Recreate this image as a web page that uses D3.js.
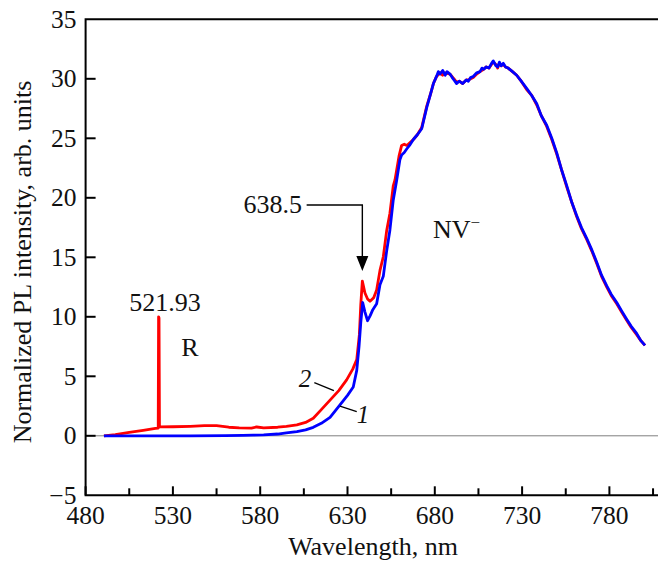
<!DOCTYPE html>
<html><head><meta charset="utf-8">
<script src="https://cdn.jsdelivr.net/npm/d3@7"></script>
<style>body{margin:0;background:#fff}svg{display:block}text{font-family:"Liberation Serif","Times New Roman",serif;fill:#111}</style>
</head><body>
<script>
// ---- data ----
const xTicks = [480, 530, 580, 630, 680, 730, 780];
const yTicks = [-5, 0, 5, 10, 15, 20, 25, 30, 35];
// curve 2 (red)
const redWl  = [490.5,497,505,513,520,521.6,521.8,522.05,522.3,530,540,548,555,562,568,575,578,582,590,595,601,606,610.4,615,620,625,629.5,633,635.3,636.8,637.6,638.5,640,641.5,642.9,645,646.7,648.6,650.5,652.4,654.3,656.2,657.2,659.5,661,662.5,664,667.7,670,672.5,675.4,677.5,679.2,681,683,684.5,686,688.7,691,692.5,694,696,698,699.2,702,704,705.9,708,709.5,711,712.5,713.5,715,716,717,718,719.2,720.5,722,724.5,726.9,729.5,732.6,735.5,738.4,741,744.1,747,749.8,752.5,755.6,758.5,761.3,764,767,770,772.7,775.5,778.5,781,784.2,787,789.9,792.5,795.6,798,800.4];
const redVal = [0,0.1,0.28,0.45,0.62,0.65,10,9.9,0.75,0.76,0.8,0.85,0.85,0.72,0.66,0.65,0.74,0.66,0.72,0.8,0.92,1.12,1.47,2.2,3.0,3.8,4.7,5.6,6.4,8.5,11,13.0,12.0,11.5,11.3,11.6,12.25,13.9,15.05,17.2,18.7,21.0,21.5,23.5,24.4,24.5,24.4,24.9,25.3,25.9,27.7,28.7,29.6,30.2,30.5,30.3,30.5,30.4,30.0,29.7,29.8,29.6,29.9,29.9,30.1,30.4,30.6,30.8,31.0,30.9,31.2,31.4,31.2,30.9,31.3,31.1,31.2,31.0,30.9,30.6,30.3,29.8,29.1,28.6,27.8,26.9,26.0,24.9,23.7,22.4,20.9,19.6,18.4,17.4,16.5,15.5,14.5,13.4,12.5,11.8,11.1,10.4,9.7,9.1,8.5,8.0,7.6];
// curve 1 (blue)
const blueWl  = [490.5,500,520,540,560,570,576,582,590,595,601,606,610.4,615,620,625.7,630,633.3,635.3,636.6,637.6,638.7,640,641.5,643,644.5,646.7,648.6,650.5,652.4,654.3,656.2,658.2,660,661,662.5,663.9,665.5,667.7,670,672.5,675.4,677.5,679.2,681,682,683,684.5,686,687,688.7,690,691,692.5,694,696,698,699.2,700.5,702,704,705.9,707,708,709.5,711,712.5,713.5,715,716,717,718,719.2,720.5,722,724.5,726.9,729.5,732.6,735.5,738.4,741,744.1,747,749.8,752.5,755.6,758.5,761.3,764,767,770,772.7,775.5,778.5,781,784.2,787,789.9,792.5,795.6,798,800.4];
const blueVal = [0,0,0,0,0.01,0.03,0.05,0.07,0.15,0.24,0.35,0.5,0.71,1.05,1.55,2.6,3.4,4.1,5.5,7.5,9.5,11.2,10.4,9.67,10.1,10.6,11.1,12.7,13.4,15.5,17.3,19.8,21.5,23.2,23.6,23.8,24.1,24.4,24.9,25.3,25.8,27.6,28.7,29.6,30.2,30.6,30.4,30.7,30.3,30.6,30.4,30.1,29.9,29.6,29.8,29.6,29.9,29.8,30.1,30.2,30.5,30.6,30.9,30.8,31.0,30.9,31.3,31.5,31.1,31.0,31.4,31.1,31.3,31.0,30.9,30.6,30.3,29.8,29.2,28.6,27.9,26.9,26.1,25.0,23.8,22.4,21.0,19.6,18.5,17.5,16.6,15.6,14.6,13.5,12.6,11.9,11.2,10.5,9.8,9.2,8.6,8.0,7.6];

const W = 658, H = 563;
const svg = d3.select("body").append("svg").attr("width", W).attr("height", H);

const x = d3.scaleLinear().domain([480, 830]).range([85.6, 85.6 + 350 * 1.746]);
const y = d3.scaleLinear().domain([-5, 35]).range([495.3, 19.3]);
const xL = x(480), xR = W + 20, yB = y(-5), yT = y(35);

// zero line
svg.append("line").attr("x1", xL).attr("x2", xR).attr("y1", y(0)).attr("y2", y(0))
  .attr("stroke", "#7f7f7f").attr("stroke-width", 1);

// curves
const line = d3.line().x(d => x(d[0])).y(d => y(d[1])).curve(d3.curveLinear);
svg.append("path").datum(d3.zip(redWl, redVal)).attr("d", line)
  .attr("fill", "none").attr("stroke", "#ff0000").attr("stroke-width", 2.8).attr("stroke-linejoin", "round");
svg.append("path").datum(d3.zip(blueWl, blueVal)).attr("d", line)
  .attr("fill", "none").attr("stroke", "#0000ff").attr("stroke-width", 2.8).attr("stroke-linejoin", "round");

// frame
const frame = svg.append("g").attr("stroke", "#000").attr("stroke-width", 2).attr("fill", "none");
frame.append("path").attr("d", `M${xR},${yT}H${xL}V${yB}H${xR}`);

// x ticks (inward) incl. minor ticks
const xMinor = d3.range(480, 830, 25);
svg.append("g").selectAll("line").data(xMinor).join("line")
  .attr("x1", d => x(d)).attr("x2", d => x(d))
  .attr("y1", yB).attr("y2", d => yB - ((d - 480) % 50 === 0 ? 9 : 7))
  .attr("stroke", "#000").attr("stroke-width", 2);
svg.append("g").selectAll("text").data(xTicks).join("text")
  .attr("x", d => x(d)).attr("y", 523.5).attr("text-anchor", "middle")
  .attr("font-size", 25.5).text(d => d);

// y ticks (inward)
svg.append("g").selectAll("line").data(yTicks.filter(d => d > -5 && d < 35)).join("line")
  .attr("x1", xL).attr("x2", xL + 10).attr("y1", d => y(d)).attr("y2", d => y(d))
  .attr("stroke", "#000").attr("stroke-width", 2);
svg.append("g").selectAll("text").data(yTicks).join("text")
  .attr("x", 76.5).attr("y", d => y(d) + 8.5).attr("text-anchor", "end")
  .attr("font-size", 25.5).text(d => d < 0 ? "\u2212" + Math.abs(d) : d);

// axis titles
svg.append("text").attr("x", 373).attr("y", 555).attr("text-anchor", "middle")
  .attr("font-size", 26).text("Wavelength, nm");
svg.append("text").attr("transform", "translate(31,262) rotate(-90)").attr("text-anchor", "middle")
  .attr("font-size", 26).text("Normalized PL intensity, arb. units");

// annotations
svg.append("text").attr("x", x(525.5)).attr("y", y(10.45)).attr("text-anchor", "middle")
  .attr("font-size", 26).text("521.93");
svg.append("text").attr("x", x(539.8)).attr("y", y(6.7)).attr("text-anchor", "middle")
  .attr("font-size", 26).text("R");
const nv = svg.append("text").attr("x", x(679)).attr("y", y(16.6)).attr("font-size", 26);
nv.append("tspan").text("NV");
nv.append("tspan").attr("font-size", 17).attr("dy", -10).text("\u2212");

svg.append("text").attr("x", x(604)).attr("y", y(18.7)).attr("text-anchor", "end")
  .attr("font-size", 26).text("638.5");
svg.append("path").attr("d", `M${x(606.6)},${y(19.4)}H${x(638.5)}V${y(15.0)}`)
  .attr("fill", "none").attr("stroke", "#000").attr("stroke-width", 1.4);
svg.append("path").attr("d", `M${x(638.5) - 6},${y(15.1)}L${x(638.5) + 6},${y(15.1)}L${x(638.5)},${y(13.85)}Z`)
  .attr("fill", "#000");

// curve numbers
svg.append("text").attr("x", x(605.7)).attr("y", y(4.1)).attr("text-anchor", "middle")
  .attr("font-size", 25).attr("font-style", "italic").text("2");
svg.append("line").attr("x1", x(611)).attr("y1", y(4.46)).attr("x2", x(622.2)).attr("y2", y(3.79))
  .attr("stroke", "#000").attr("stroke-width", 1.3);
svg.append("text").attr("x", x(638.9)).attr("y", y(1.1)).attr("text-anchor", "middle")
  .attr("font-size", 25).attr("font-style", "italic").text("1");
svg.append("line").attr("x1", x(625.7)).attr("y1", y(2.5)).attr("x2", x(635.3)).attr("y2", y(2.03))
  .attr("stroke", "#000").attr("stroke-width", 1.3);
</script>
</body></html>
